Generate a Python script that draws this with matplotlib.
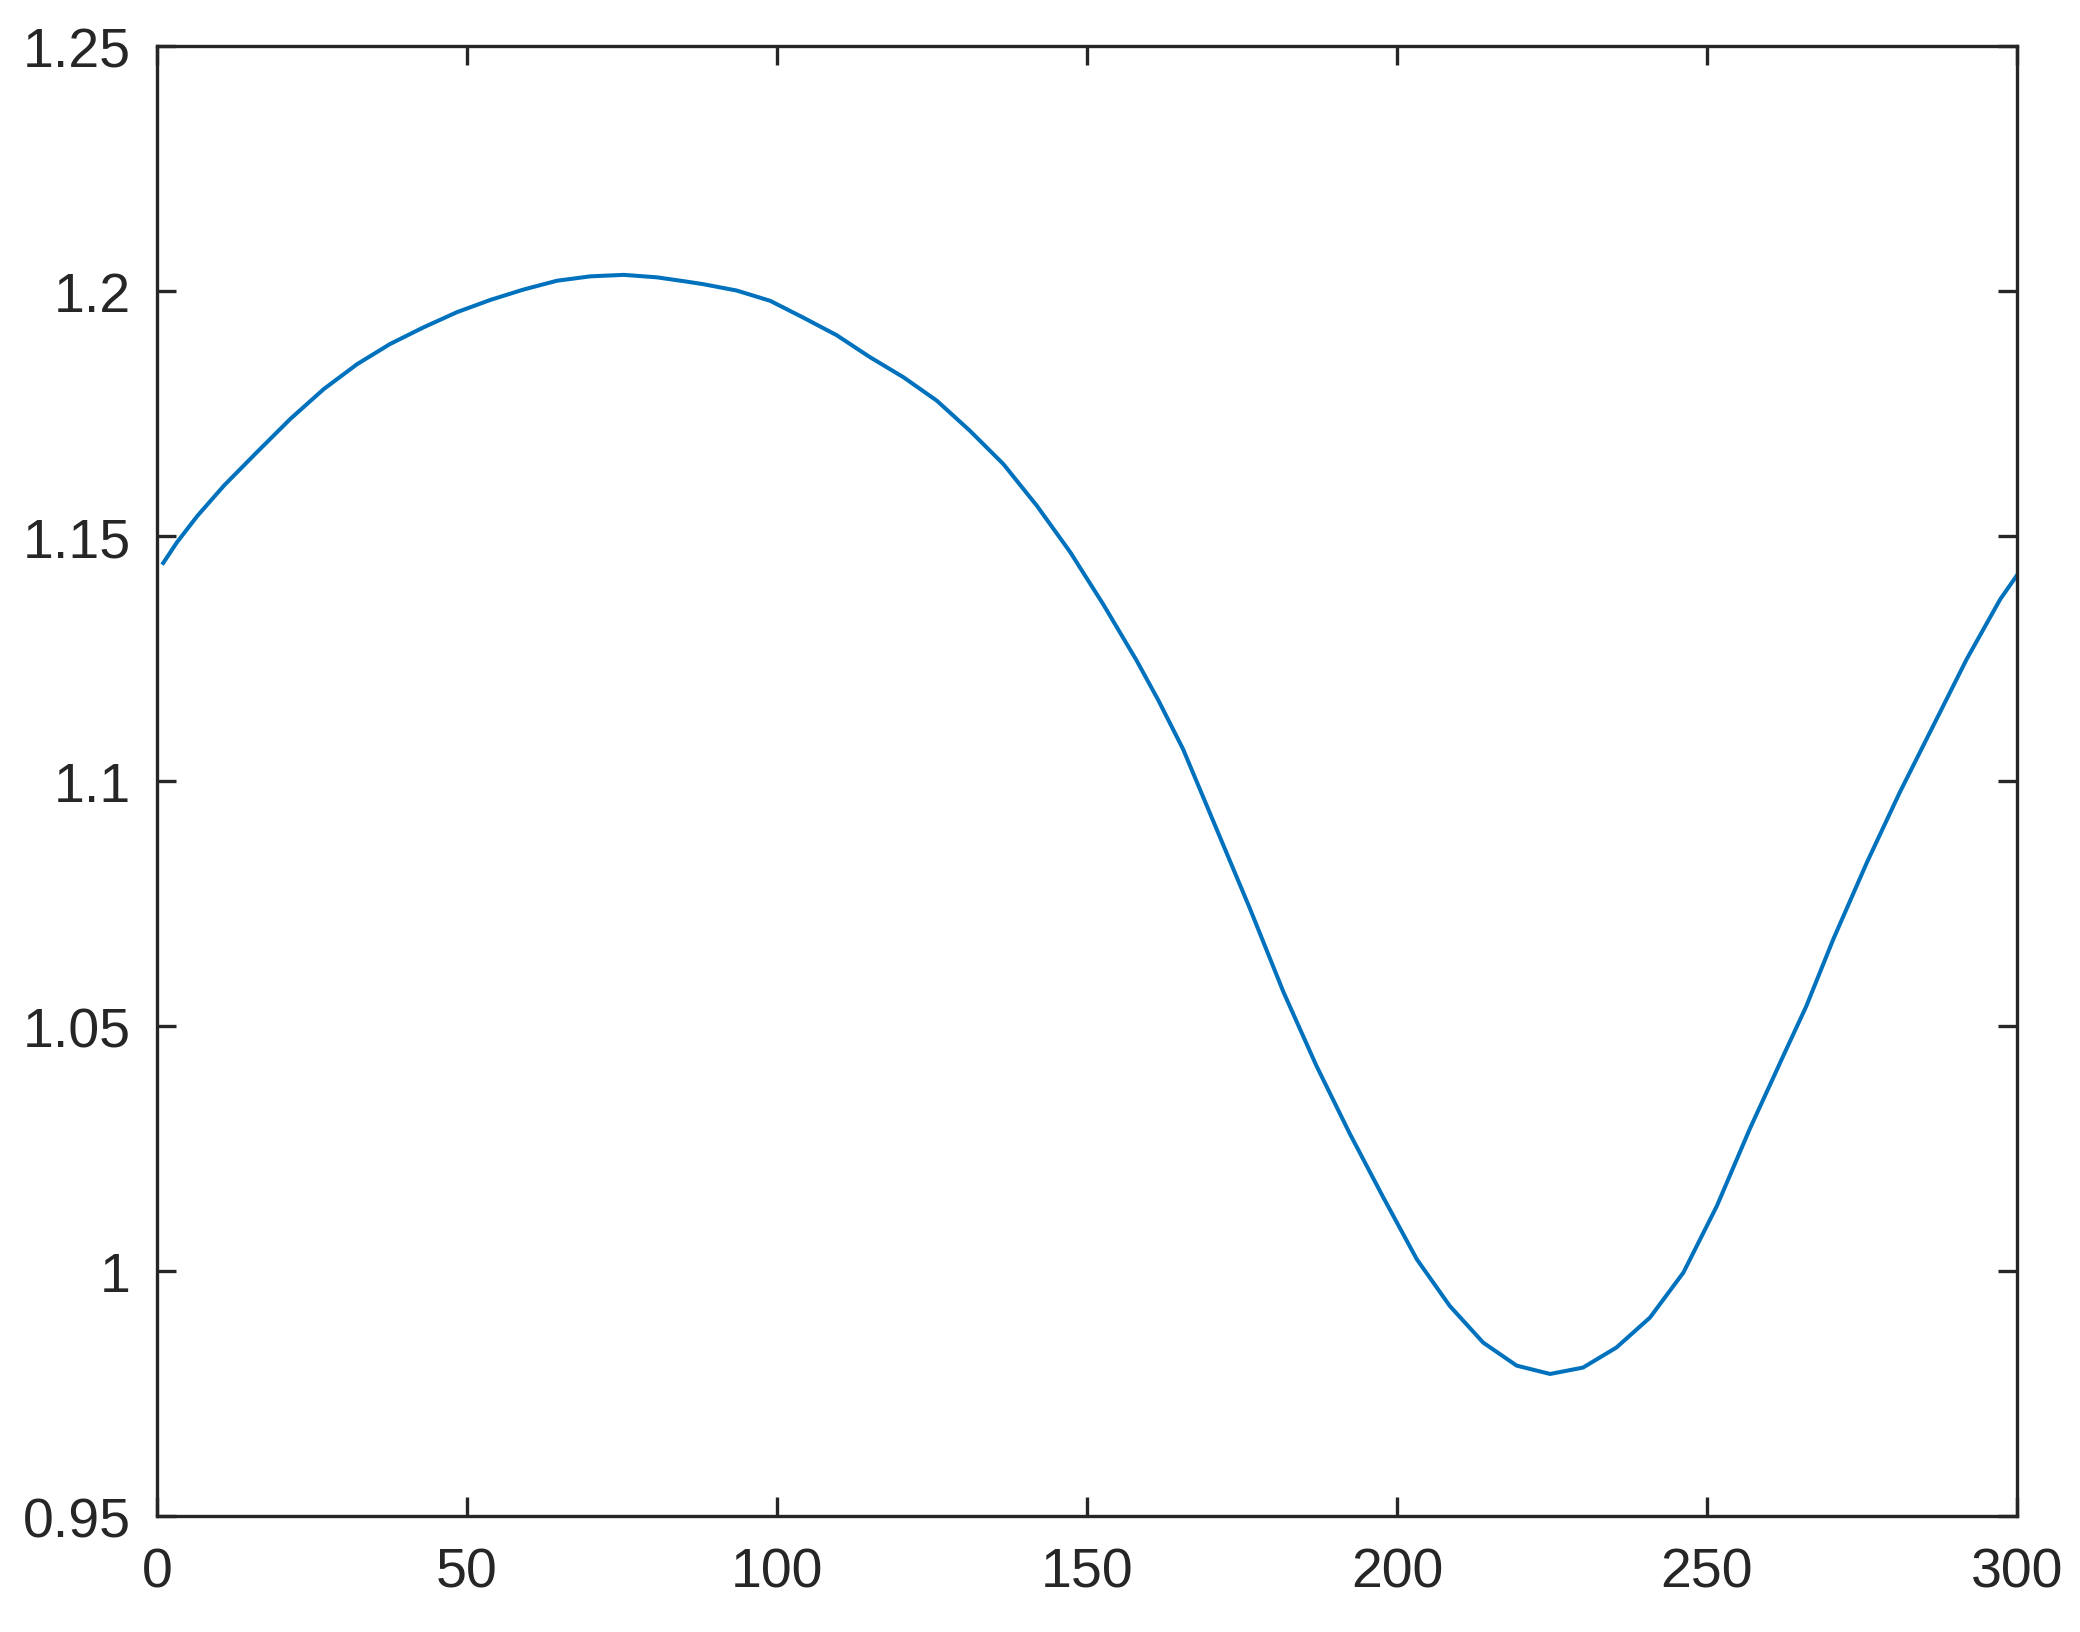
import matplotlib
matplotlib.use("Agg")
import matplotlib.pyplot as plt

# values
x = [1.0, 3.2, 6.5, 10.8, 16.1, 21.5, 26.9, 32.3, 37.6, 43.0, 48.4, 53.8,
     59.1, 64.5, 69.9, 75.3, 80.6, 85.0, 88.1, 93.5, 98.9, 104.2, 109.6,
     115.0, 120.4, 125.8, 131.1, 136.5, 141.9, 147.3, 152.6, 158.0, 161.5,
     165.5, 170.9, 176.3, 181.7, 187.0, 192.4, 197.8, 203.2, 208.5, 213.9,
     219.3, 224.7, 230.0, 235.4, 240.8, 246.2, 251.6, 256.9, 262.3, 266.0,
     270.4, 275.8, 281.1, 286.5, 291.9, 297.3, 300.0]
y = [1.1445, 1.1487, 1.1541, 1.1603, 1.1671, 1.1739, 1.1800, 1.1851, 1.1892,
     1.1926, 1.1957, 1.1982, 1.2003, 1.2021, 1.2030, 1.2033, 1.2028, 1.2020,
     1.2014, 1.2001, 1.1980, 1.1946, 1.1910, 1.1865, 1.1824, 1.1776, 1.1715,
     1.1647, 1.1562, 1.1467, 1.1361, 1.1246, 1.1165, 1.1065, 1.0902, 1.0739,
     1.0569, 1.0419, 1.0280, 1.0150, 1.0024, 0.9929, 0.9854, 0.9807, 0.9790,
     0.9803, 0.9844, 0.9905, 0.9997, 1.0133, 1.0290, 1.0439, 1.0540, 1.0678,
     1.0834, 1.0977, 1.1113, 1.1249, 1.1371, 1.1420]

xticks = [0, 50, 100, 150, 200, 250, 300]
yticks = [0.95, 1.0, 1.05, 1.1, 1.15, 1.2, 1.25]
ytick_labels = ["0.95", "1", "1.05", "1.1", "1.15", "1.2", "1.25"]

plt.rcParams["font.family"] = ["Liberation Sans", "DejaVu Sans"]
dark = "#262626"

fig = plt.figure(figsize=(20.8, 16.33), dpi=100)
ax = fig.add_axes([0.0755, 0.0710, 0.8942, 0.9002])

ax.plot(x, y, color="#0072BD", linewidth=2.9, solid_joinstyle="round")

ax.set_xlim(0, 300)
ax.set_ylim(0.95, 1.25)
ax.set_xticks(xticks)
ax.set_yticks(yticks)
ax.set_yticklabels(ytick_labels)

for s in ax.spines.values():
    s.set_linewidth(2.4)
    s.set_color(dark)

ax.tick_params(direction="in", length=14, width=2.4, color=dark,
               labelcolor=dark, labelsize=40, top=True, right=True)
ax.tick_params(axis="x", pad=22)
ax.tick_params(axis="y", pad=19)

fig.savefig("out.png", dpi=100)
